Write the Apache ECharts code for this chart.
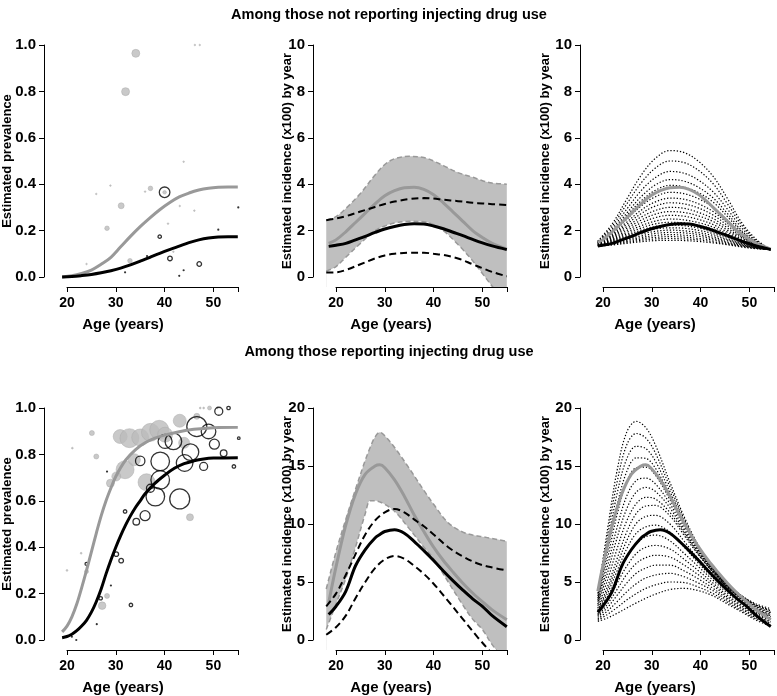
<!DOCTYPE html>
<html><head><meta charset="utf-8">
<script src="https://cdn.jsdelivr.net/npm/echarts@6/dist/echarts.min.js"></script>
<style>html,body{margin:0;padding:0;background:#fff}#c{width:777px;height:696px}</style>
</head><body><div id="c"></div>
<script>
// ================= DATA =================
// Panel 1: prevalence, not reporting IDU
const p1FitAges = [19,21,23,25,27,29,31,33,35,37,39,41,43,45,47,49,51,53,55];
const p1Gray  = [0.0,0.005,0.015,0.03,0.055,0.085,0.13,0.175,0.217,0.255,0.29,0.32,0.345,0.362,0.375,0.383,0.387,0.388,0.388];
const p1Black = [0.0,0.002,0.006,0.011,0.018,0.027,0.038,0.052,0.068,0.085,0.102,0.118,0.133,0.148,0.16,0.168,0.172,0.173,0.173];
const p1GrayPts = [[34.1,0.964,4],[32.0,0.799,4],[46.2,1.0,0.8],[47.2,1.0,0.8],[31.1,0.307,3],[37.1,0.382,2.3],[40.0,0.365,1.8],[28.2,0.21,2.3],[32.9,0.07,2.3],[28.9,0.394,0.8],[26.0,0.358,0.8],[36.0,0.368,0.8],[43.9,0.497,0.8],[43.1,0.306,0.8],[46.1,0.286,0.8],[40.7,0.23,0.8],[41.8,0.109,0.8],[24.0,0.056,0.8]];
const p1OpenPts = [[40.0,0.365,5.3],[39.0,0.174,1.7],[41.1,0.08,2.3],[47.1,0.056,2.3]];
const p1DotPts  = [[31.9,0.02],[36.4,0.09],[43.0,0.005],[43.9,0.029],[51.0,0.204],[55.1,0.30]];

// Panel 2: incidence, not reporting IDU (model fits and intervals)
const p2BandAges  = [18,20,22,25,28,30,32,35,38,40,42,45,48,50,52,55];
const p2BandUpper = [2.45,2.6,2.95,3.6,4.4,4.85,5.1,5.2,5.15,5.0,4.8,4.5,4.3,4.15,4.05,4.0];
const p2BandLower = [0.25,0.45,0.85,1.45,2.0,2.2,2.33,2.4,2.38,2.25,2.0,1.4,0.7,0.15,-0.4,-1.2];
const p2DashUpper = [2.45,2.52,2.62,2.82,3.02,3.15,3.25,3.36,3.4,3.38,3.33,3.27,3.2,3.17,3.14,3.1];
const p2DashLower = [0.19,0.2,0.3,0.55,0.8,0.93,1.0,1.05,1.05,1.0,0.95,0.8,0.55,0.38,0.22,0.03];
const p2FitAges = [18.5,20,22,24,26,28,30,32,34,36,38,40,42,44,46,48,50,52,55];
const p2Gray  = [1.45,1.6,1.95,2.35,2.75,3.15,3.5,3.72,3.85,3.87,3.78,3.55,3.2,2.8,2.4,2.0,1.7,1.45,1.2];
const p2Black = [1.32,1.37,1.45,1.6,1.75,1.92,2.07,2.18,2.26,2.29,2.28,2.2,2.08,1.93,1.78,1.62,1.47,1.34,1.18];

// Panel 3: incidence scenarios, not reporting IDU
const p3FitAges = [19,20,22,24,26,28,30,32,34,36,38,40,42,44,46,48,50,52,55];
const p3Gray  = [1.5,1.6,1.95,2.35,2.75,3.15,3.5,3.72,3.85,3.87,3.78,3.55,3.2,2.8,2.4,2.0,1.7,1.45,1.2];
const p3Black = [1.34,1.37,1.45,1.6,1.75,1.92,2.07,2.18,2.26,2.29,2.28,2.2,2.08,1.93,1.78,1.62,1.47,1.34,1.18];
const p3CurveAges = [19,22,25,28,31,34,37,40,43,46,49,52,55];
const p3Curves = [
 [1.55,2.29,3.35,4.38,5.12,5.45,5.36,4.98,4.34,3.38,2.33,1.62,1.18],
 [1.53,2.19,3.14,4.05,4.70,5.00,4.93,4.59,4.02,3.15,2.22,1.57,1.18],
 [1.52,2.09,2.92,3.72,4.29,4.55,4.47,4.17,3.67,2.92,2.10,1.53,1.18],
 [1.50,2.01,2.75,3.46,3.97,4.20,4.13,3.86,3.41,2.73,1.99,1.49,1.18],
 [1.50,1.96,2.64,3.28,3.74,3.95,3.88,3.63,3.23,2.60,1.93,1.47,1.18],
 [1.48,1.90,2.48,3.06,3.46,3.65,3.59,3.37,3.00,2.45,1.85,1.44,1.18],
 [1.47,1.84,2.36,2.88,3.24,3.40,3.35,3.15,2.82,2.32,1.78,1.42,1.18],
 [1.46,1.79,2.27,2.73,3.06,3.20,3.15,2.97,2.67,2.22,1.73,1.39,1.18],
 [1.45,1.75,2.17,2.58,2.87,3.00,2.96,2.78,2.52,2.11,1.68,1.37,1.18],
 [1.44,1.70,2.09,2.45,2.71,2.82,2.78,2.63,2.39,2.02,1.62,1.35,1.18],
 [1.43,1.66,2.00,2.33,2.56,2.66,2.62,2.48,2.26,1.93,1.58,1.33,1.18],
 [1.42,1.62,1.92,2.21,2.41,2.50,2.46,2.34,2.15,1.85,1.54,1.32,1.18],
 [1.41,1.59,1.85,2.11,2.29,2.36,2.33,2.23,2.05,1.79,1.50,1.31,1.18],
 [1.40,1.56,1.79,2.02,2.18,2.24,2.21,2.11,1.95,1.72,1.47,1.29,1.18],
 [1.39,1.53,1.74,1.93,2.07,2.12,2.10,2.01,1.87,1.66,1.44,1.28,1.18],
 [1.38,1.50,1.68,1.85,1.97,2.02,1.99,1.91,1.79,1.60,1.40,1.27,1.18],
 [1.37,1.47,1.63,1.77,1.88,1.92,1.90,1.83,1.71,1.56,1.38,1.26,1.18],
 [1.36,1.44,1.58,1.70,1.79,1.83,1.80,1.75,1.65,1.50,1.36,1.24,1.18],
 [1.35,1.43,1.53,1.64,1.71,1.74,1.72,1.66,1.59,1.46,1.33,1.24,1.18],
 [1.34,1.40,1.49,1.58,1.64,1.66,1.64,1.60,1.52,1.42,1.32,1.23,1.18],
 [1.33,1.38,1.45,1.52,1.57,1.58,1.57,1.53,1.47,1.39,1.29,1.22,1.18]
];

// Panel 4: prevalence, reporting IDU
const p4GrayAges = [19,20,21,22,23,24,25,26,27,28,29,30,32,34,36,38,40,43,46,50,55];
const p4Gray = [0.035,0.06,0.1,0.155,0.225,0.30,0.38,0.46,0.535,0.6,0.655,0.705,0.775,0.82,0.85,0.87,0.883,0.898,0.908,0.915,0.917];
const p4BlackAges = [19,20,21,22,23,24,25,26,27,28,29,30,31,32,33,34,35,36,38,40,42,44,46,48,50,55];
const p4Black = [0.01,0.015,0.025,0.04,0.06,0.085,0.12,0.165,0.22,0.285,0.345,0.40,0.45,0.495,0.535,0.57,0.60,0.63,0.675,0.71,0.74,0.76,0.772,0.78,0.784,0.786];
const p4GrayPts = [[25.1,0.892,2.5],[21.1,0.827,0.9],[26.0,0.791,2.5],[30.9,0.877,7],[32.8,0.87,9.5],[35.0,0.873,8.5],[37.1,0.895,9],[38.9,0.906,9.5],[40.1,0.885,7.5],[43.1,0.945,6.5],[44.0,0.85,5.5],[46.6,0.964,3],[49.2,1.0,2],[47.3,1.0,0.9],[48.0,1.0,0.9],[50.8,1.0,0.9],[31.9,0.734,9],[33.8,0.777,6],[30.1,0.705,4.5],[28.9,0.676,4],[36.3,0.68,8.5],[45.2,0.529,3.5],[24.0,0.295,2],[22.9,0.374,0.9],[20.0,0.30,0.9],[28.2,0.19,2.5],[27.2,0.148,3.8]];
const p4OpenPts = [[51.1,0.986,4],[53.1,1.0,1.7],[55.2,0.87,1.3],[46.6,0.92,10],[49.0,0.899,7.3],[50.2,0.844,5],[52.1,0.805,3.3],[54.2,0.748,1.7],[48.0,0.748,4],[40.1,0.856,7],[41.8,0.856,8.3],[45.3,0.81,8.3],[44.1,0.763,8.3],[39.1,0.77,9.3],[39.1,0.69,9.3],[38.1,0.618,9.3],[43.1,0.608,10],[37.1,0.654,4],[35.0,0.772,4.7],[36.0,0.536,5],[34.2,0.51,3.3],[31.9,0.554,1.7],[31.1,0.342,2.3],[30.1,0.37,2.3],[24.0,0.328,1.5],[26.9,0.18,1.7],[33.1,0.151,1.7]];
const p4DotPts = [[28.2,0.726],[29.0,0.235],[26.1,0.068],[21.0,0.014],[21.9,0.0]];

// Panel 5: incidence, reporting IDU (model fits and intervals)
const p5BandAges  = [18,20,22,24,26,27,28,29,30,32,35,38,40,43,46,48,50,52,55];
const p5BandUpper = [4.4,7.6,10.4,13.0,15.5,16.6,17.5,17.9,17.6,16.6,14.8,12.9,11.7,10.1,9.3,9.05,8.9,8.75,8.5];
const p5BandLower = [0.9,3.1,5.3,8.0,10.9,12.0,12.0,11.9,11.7,11.1,9.6,8.0,7.0,5.0,3.0,1.8,0.9,-0.4,-2.0];
const p5DashAges  = [18,20,22,24,26,28,30,32,34,36,38,40,43,46,49,52,55];
const p5DashUpper = [2.9,4.0,5.6,7.4,9.1,10.3,11.0,11.3,11.0,10.4,9.8,9.1,8.0,7.2,6.6,6.25,6.0];
const p5DashLower = [0.45,1.1,2.1,3.6,5.0,6.2,6.95,7.25,7.0,6.4,5.7,4.85,3.35,1.8,0.25,-1.2,-2.7];
const p5FitAges = [18.5,20,22,24,26,28,29,30,32,34,36,38,40,42,44,46,48,50,52,55];
const p5Gray  = [3.2,6.3,9.9,12.6,14.3,15.0,15.1,14.85,13.8,12.4,10.8,9.35,8.0,6.85,5.85,4.9,4.05,3.3,2.6,1.75];
const p5Black = [2.2,2.9,4.2,6.4,7.8,8.8,9.1,9.35,9.5,9.2,8.5,7.7,6.85,5.95,5.1,4.3,3.55,2.9,2.1,1.15];

// Panel 6: incidence scenarios, reporting IDU
const p6FitAges = [19,20,22,24,26,28,29,30,32,34,36,38,40,42,44,46,48,50,52,55];
const p6Gray  = [4.2,6.3,9.9,12.6,14.3,15.0,15.1,14.85,13.8,12.4,10.8,9.35,8.0,6.85,5.85,4.9,4.05,3.3,2.6,1.75];
const p6Black = [2.4,2.9,4.2,6.4,7.8,8.8,9.1,9.35,9.5,9.2,8.5,7.7,6.85,5.95,5.1,4.3,3.55,2.9,2.1,1.15];
const p6CurveAges = [19,21,23,25,27,29,31,34,37,40,43,46,49,52,55];
const p6Curves = [
 [4.0,9.5,14.6,17.9,18.85,18.3,16.8,13.6,10.6,8.1,6.2,4.8,3.8,3.1,2.7],
 [3.8,8.9,13.6,16.8,17.8,17.4,16.1,13.2,10.4,8.0,6.2,4.8,3.8,3.0,2.6],
 [3.6,8.2,12.6,15.6,16.7,16.5,15.4,12.8,10.2,7.9,6.1,4.7,3.7,3.0,2.5],
 [3.45,7.6,11.6,14.5,15.7,15.65,14.8,12.5,10.0,7.8,6.0,4.7,3.7,2.9,2.4],
 [3.3,7.0,10.8,13.6,14.85,14.9,14.2,12.1,9.8,7.7,6.0,4.65,3.65,2.85,2.35],
 [3.1,6.35,9.7,12.4,13.75,13.95,13.45,11.75,9.55,7.6,5.95,4.6,3.6,2.8,2.25],
 [2.95,5.75,8.8,11.3,12.75,13.15,12.8,11.4,9.35,7.5,5.9,4.55,3.55,2.7,2.15],
 [2.75,5.15,7.85,10.25,11.75,12.3,12.15,11.0,9.2,7.4,5.85,4.55,3.55,2.65,2.1],
 [2.6,4.6,7.0,9.3,10.9,11.55,11.6,10.7,9.0,7.3,5.8,4.5,3.5,2.6,2.0],
 [2.5,4.3,6.45,8.55,10.05,10.65,10.75,10.0,8.5,6.95,5.6,4.35,3.4,2.5,1.9],
 [2.4,4.0,5.95,7.85,9.2,9.75,9.9,9.3,8.0,6.6,5.35,4.2,3.25,2.4,1.8],
 [2.25,3.7,5.4,7.1,8.3,8.9,9.05,8.55,7.45,6.3,5.15,4.05,3.15,2.3,1.75],
 [2.15,3.4,4.9,6.35,7.45,8.0,8.15,7.85,6.95,5.95,4.9,3.85,3.0,2.2,1.65],
 [2.05,3.1,4.35,5.65,6.6,7.1,7.3,7.15,6.45,5.6,4.7,3.7,2.9,2.1,1.55],
 [1.95,2.8,3.85,4.9,5.75,6.2,6.45,6.45,5.95,5.25,4.45,3.55,2.75,2.0,1.45],
 [1.8,2.5,3.3,4.15,4.85,5.35,5.6,5.75,5.45,4.9,4.25,3.4,2.65,1.9,1.35],
 [1.7,2.2,2.8,3.45,4.0,4.45,4.75,5.0,4.95,4.55,4.0,3.25,2.5,1.8,1.3],
 [1.6,1.9,2.3,2.75,3.2,3.6,3.95,4.35,4.45,4.25,3.8,3.1,2.4,1.7,1.2]
];

// Axis ticks / labels
const xTickValues = [20,30,40,50,55];
const xLabelValues = [20,30,40,50];
const rowTitles = ['Among those not reporting injecting drug use','Among those reporting injecting drug use'];
const xTitle = 'Age (years)';
const yTitles = ['Estimated prevalence','Estimated incidence (x100) by year','Estimated incidence (x100) by year'];

// ================= LAYOUT / STYLE =================
const FONT = '"Liberation Sans", Arial, Helvetica, sans-serif';
const GRAY_LINE = '#999999', BAND = '#bfbfbf', GRAY_PT = '#bcbcbc';
const PXY = 4.88;
const XMIN = 20 - 23 / PXY, XMAX = 56.3;
const rows = [{y0: 277, yt: 45}, {y0: 640, yt: 408}];
const cols = [67, 336, 603];
const panelDefs = [
  {r:0, c:0, ymax:1,  yint:0.2, dec:1, tx:7.5},
  {r:0, c:1, ymax:10, yint:2,   dec:0, tx:287.5},
  {r:0, c:2, ymax:10, yint:2,   dec:0, tx:545},
  {r:1, c:0, ymax:1,  yint:0.2, dec:1, tx:7.5},
  {r:1, c:1, ymax:20, yint:5,   dec:0, tx:287.5},
  {r:1, c:2, ymax:20, yint:5,   dec:0, tx:545}
];
const xTitleX = [123, 391, 655];

const grid = [], xAxis = [], yAxis = [], series = [], graphic = [];
const lbl = (size) => ({color:'#000', fontWeight:'bold', fontSize:size, fontFamily:FONT});
panelDefs.forEach((p, i) => {
  const ax = cols[p.c], y0 = rows[p.r].y0, yt = rows[p.r].yt;
  const upp = p.ymax / (y0 - yt);
  grid.push({left: ax - 23, top: yt - 10, width: (XMAX - XMIN) * PXY, height: (y0 - yt) + 20, containLabel:false});
  xAxis.push({gridIndex: 2*i, type:'value', min: XMIN, max: XMAX, show:false});
  yAxis.push({gridIndex: 2*i, type:'value', min: -10*upp, max: p.ymax + 10*upp, show:false});
  grid.push({left: ax, top: yt, width: 35 * PXY, height: y0 - yt, containLabel:false});
  xAxis.push({gridIndex: 2*i+1, type:'value', min:20, max:55, offset:10, position:'bottom', z:10,
    axisLine:{show:true, onZero:false, lineStyle:{color:'#000', width:1}},
    axisTick:{show:true, length:5, customValues:xTickValues, lineStyle:{color:'#000', width:1}},
    axisLabel:Object.assign({customValues:xLabelValues, margin:9}, lbl(14)),
    splitLine:{show:false}});
  yAxis.push({gridIndex: 2*i+1, type:'value', min:0, max:p.ymax, interval:p.yint, offset:23, position:'left', z:10,
    axisLine:{show:true, onZero:false, lineStyle:{color:'#000', width:1}},
    axisTick:{show:true, length:5, lineStyle:{color:'#000', width:1}},
    axisLabel:Object.assign({margin:8, formatter: v => v.toFixed(p.dec)}, lbl(15)),
    splitLine:{show:false}});
  graphic.push({type:'text', x: xTitleX[p.c], y: y0 + 48, silent:true,
    style:{text: xTitle, font:'bold 15px ' + FONT, fill:'#000', align:'center', verticalAlign:'middle', textAlign:'center', textVerticalAlign:'middle'}});
  graphic.push({type:'text', x: p.tx, y: (y0 + yt) / 2, rotation: Math.PI/2, silent:true,
    style:{text: yTitles[p.c], font:'bold 13px ' + FONT, fill:'#000', align:'center', verticalAlign:'middle', textAlign:'center', textVerticalAlign:'middle'}});
});
graphic.push({type:'text', x: 389, y: 15, silent:true, style:{text: rowTitles[0], font:'bold 14.5px ' + FONT, fill:'#000', align:'center', verticalAlign:'middle', textAlign:'center', textVerticalAlign:'middle'}});
graphic.push({type:'text', x: 389, y: 352, silent:true, style:{text: rowTitles[1], font:'bold 14.5px ' + FONT, fill:'#000', align:'center', verticalAlign:'middle', textAlign:'center', textVerticalAlign:'middle'}});

const pairs = (xs, ys) => xs.map((x, k) => [x, ys[k]]);
function line(i, xs, ys, color, width, type, z) {
  series.push({type:'line', xAxisIndex:2*i, yAxisIndex:2*i, data:pairs(xs, ys), symbol:'none', showSymbol:false,
    smooth:0.35, silent:true, z:z, lineStyle:{color:color, width:width, type:type, cap:'butt'}});
}
// Band: grey area under the upper bound, then white area under the lower bound
function band(i, xs, lo, up) {
  series.push({type:'line', xAxisIndex:2*i, yAxisIndex:2*i, data:pairs(xs, up), symbol:'none', smooth:0.35, silent:true, z:1,
    lineStyle:{width:0, opacity:0}, areaStyle:{color:BAND, opacity:1, origin:'start'}});
  series.push({type:'line', xAxisIndex:2*i, yAxisIndex:2*i, data:pairs(xs, lo), symbol:'none', smooth:0.35, silent:true, z:1.5,
    lineStyle:{width:0, opacity:0}, areaStyle:{color:'#ffffff', opacity:1, origin:'start'}});
}
function scatterPts(i, pts, kind) {
  const style = kind === 'gray' ? {color:GRAY_PT, borderColor:'#a9a9a9', borderWidth:0.6}
              : kind === 'open' ? {color:'rgba(0,0,0,0)', borderColor:'#000', borderWidth:1.3}
              : {color:'#000'};
  series.push({type:'scatter', xAxisIndex:2*i, yAxisIndex:2*i, data:pts, symbol:'circle', silent:true,
    symbolSize: kind === 'dot' ? 2.2 : (v => 2 * v[2]), itemStyle:style, z: kind === 'gray' ? 2 : 3});
}

// Panel 1
scatterPts(0, p1GrayPts, 'gray');
scatterPts(0, p1OpenPts, 'open');
scatterPts(0, p1DotPts, 'dot');
line(0, p1FitAges, p1Gray, GRAY_LINE, 3, 'solid', 4);
line(0, p1FitAges, p1Black, '#000', 3, 'solid', 5);
// Panel 2
band(1, p2BandAges, p2BandLower, p2BandUpper);
line(1, p2BandAges, p2BandUpper, GRAY_LINE, 1.5, [5,3], 2);
line(1, p2BandAges, p2BandLower, GRAY_LINE, 1.5, [5,3], 2);
line(1, p2FitAges, p2Gray, GRAY_LINE, 3, 'solid', 3);
line(1, p2BandAges, p2DashUpper, '#000', 2, [7,4], 4);
line(1, p2BandAges, p2DashLower, '#000', 2, [7,4], 4);
line(1, p2FitAges, p2Black, '#000', 3, 'solid', 5);
// Panel 3
p3Curves.forEach(c => line(2, p3CurveAges, c, '#000', 1.2, [1.3,1.9], 2));
line(2, p3FitAges, p3Gray, GRAY_LINE, 3, 'solid', 4);
line(2, p3FitAges, p3Black, '#000', 3, 'solid', 5);
// Panel 4
scatterPts(3, p4GrayPts, 'gray');
scatterPts(3, p4OpenPts, 'open');
scatterPts(3, p4DotPts, 'dot');
line(3, p4GrayAges, p4Gray, GRAY_LINE, 3, 'solid', 4);
line(3, p4BlackAges, p4Black, '#000', 3, 'solid', 5);
// Panel 5
band(4, p5BandAges, p5BandLower, p5BandUpper);
line(4, p5BandAges, p5BandUpper, GRAY_LINE, 1.5, [5,3], 2);
line(4, p5BandAges, p5BandLower, GRAY_LINE, 1.5, [5,3], 2);
line(4, p5FitAges, p5Gray, GRAY_LINE, 3, 'solid', 3);
line(4, p5DashAges, p5DashUpper, '#000', 2, [7,4], 4);
line(4, p5DashAges, p5DashLower, '#000', 2, [7,4], 4);
line(4, p5FitAges, p5Black, '#000', 3, 'solid', 5);
// Panel 6
p6Curves.forEach(c => line(5, p6CurveAges, c, '#000', 1.2, [1.3,1.9], 2));
line(5, p6FitAges, p6Gray, GRAY_LINE, 3, 'solid', 4);
line(5, p6FitAges, p6Black, '#000', 3, 'solid', 5);

const chart = echarts.init(document.getElementById('c'), null, {renderer:'canvas', width:777, height:696});
chart.setOption({animation:false, backgroundColor:'#fff', grid, xAxis, yAxis, series, graphic});
</script></body></html>
